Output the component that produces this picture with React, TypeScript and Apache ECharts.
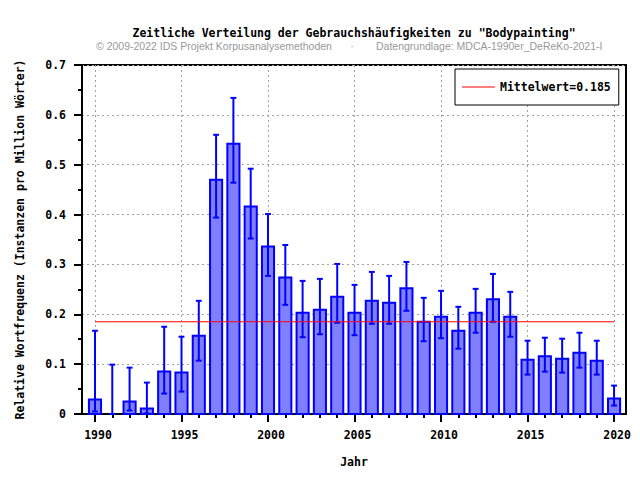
import React, { useEffect, useRef } from 'react';
import * as echarts from 'echarts';

const years = [
  1990, 1991, 1992, 1993, 1994, 1995, 1996, 1997, 1998, 1999,
  2000, 2001, 2002, 2003, 2004, 2005, 2006, 2007, 2008, 2009,
  2010, 2011, 2012, 2013, 2014, 2015, 2016, 2017, 2018, 2019, 2020,
];
const frequencies = [
  0.029, 0.0, 0.025, 0.011, 0.085, 0.083, 0.157, 0.47, 0.542, 0.416,
  0.336, 0.274, 0.203, 0.209, 0.235, 0.203, 0.227, 0.223, 0.252, 0.185,
  0.195, 0.167, 0.203, 0.23, 0.195, 0.109, 0.116, 0.111, 0.123, 0.107, 0.031,
];
const errorLow = [
  0.005, 0.0, 0.007, 0.001, 0.041, 0.045, 0.107, 0.394, 0.464, 0.352,
  0.277, 0.219, 0.154, 0.16, 0.183, 0.158, 0.181, 0.181, 0.207, 0.146,
  0.152, 0.131, 0.163, 0.185, 0.155, 0.079, 0.085, 0.083, 0.093, 0.079, 0.017,
];
const errorHigh = [
  0.167, 0.099, 0.093, 0.063, 0.175, 0.155, 0.227, 0.56, 0.634, 0.492,
  0.401, 0.339, 0.267, 0.271, 0.301, 0.259, 0.285, 0.277, 0.305, 0.233,
  0.247, 0.215, 0.251, 0.281, 0.245, 0.147, 0.153, 0.151, 0.163, 0.147, 0.057,
];
const meanValue = 0.185;
const meanSpan = [1990, 2020];
const majorYears = [1990, 1995, 2000, 2005, 2010, 2015, 2020];

const titleText = 'Zeitliche Verteilung der Gebrauchshäufigkeiten zu "Bodypainting"';
const copyrightText = '© 2009-2022 IDS Projekt Korpusanalysemethoden';
const separatorText = '·';
const sourceText = 'Datengrundlage: MDCA-1990er_DeReKo-2021-I';
const xAxisTitle = 'Jahr';
const yAxisTitle = 'Relative Wortfrequenz (Instanzen pro Million Wörter)';
const meanName = `Mittelwert=${meanValue}`;

const MONO = '"DejaVu Sans Mono", monospace';
const SANS = '"Liberation Sans", Arial, sans-serif';
const BAR_HALF = 0.35;
const CAP_HALF = 0.17;
const X_MIN = 1989.25;
const X_MAX = 2020.69;

export default function App() {
  const ref = useRef<HTMLDivElement>(null);

  useEffect(() => {
    if (!ref.current) return;
    const chart = echarts.init(ref.current, undefined, { renderer: 'svg' });

    const monoText = {
      color: '#000',
      fontFamily: MONO,
      fontWeight: 'bold' as const,
      fontSize: 11.5,
    };

    const option: any = {
      animation: false,
      backgroundColor: '#fff',
      graphic: [
        {
          type: 'text',
          x: 354,
          y: 33,
          style: {
            text: titleText,
            font: `bold 11.5px ${MONO}`,
            fill: '#000',
            textAlign: 'center',
            textVerticalAlign: 'middle',
          },
        },
        {
          type: 'text',
          x: 96,
          y: 46,
          style: {
            text: copyrightText,
            font: `10.5px ${SANS}`,
            fill: '#999',
            textAlign: 'left',
            textVerticalAlign: 'middle',
          },
        },
        {
          type: 'text',
          x: 352,
          y: 46,
          style: {
            text: separatorText,
            font: `10.5px ${SANS}`,
            fill: '#999',
            textAlign: 'center',
            textVerticalAlign: 'middle',
          },
        },
        {
          type: 'text',
          x: 376,
          y: 46,
          style: {
            text: sourceText,
            font: `10.5px ${SANS}`,
            fill: '#999',
            textAlign: 'left',
            textVerticalAlign: 'middle',
          },
        },
      ],
      legend: {
        show: true,
        left: 455,
        top: 69,
        padding: [12, 8, 12, 7],
        borderColor: '#000',
        borderWidth: 1,
        borderRadius: 0,
        backgroundColor: '#fff',
        itemWidth: 33,
        itemHeight: 1,
        textStyle: monoText,
        data: [{ name: meanName, icon: 'rect' }],
      },
      grid: {
        left: 82,
        top: 65,
        width: 544,
        height: 349,
        show: true,
        borderColor: '#000',
        borderWidth: 2,
        backgroundColor: 'transparent',
      },
      xAxis: [
        {
          type: 'value',
          min: X_MIN,
          max: X_MAX,
          position: 'bottom',
          name: xAxisTitle,
          nameLocation: 'middle',
          nameGap: 42,
          nameTextStyle: monoText,
          axisLine: { show: true, onZero: false, lineStyle: { color: '#000', width: 2 } },
          axisTick: {
            show: true,
            inside: false,
            length: 8,
            customValues: majorYears,
            lineStyle: { color: '#000', width: 2 },
          },
          axisLabel: {
            ...monoText,
            customValues: majorYears,
            margin: 15,
            padding: [0, 0, 0, 6],
            formatter: (v: number) => String(Math.round(v)),
          },
          splitLine: { show: true, lineStyle: { color: '#a0a0a0', type: [2, 3], width: 1 } },
        },
        {
          type: 'value',
          min: X_MIN,
          max: X_MAX,
          position: 'bottom',
          axisLine: { show: false },
          axisTick: {
            show: true,
            inside: false,
            length: 4,
            customValues: years,
            lineStyle: { color: '#000', width: 2 },
          },
          axisLabel: { show: false },
          splitLine: { show: false },
        },
      ],
      yAxis: {
        type: 'value',
        min: 0,
        max: 0.7,
        interval: 0.1,
        name: yAxisTitle,
        nameLocation: 'middle',
        nameGap: 56,
        nameRotate: 90,
        nameTextStyle: monoText,
        axisLine: { show: true, lineStyle: { color: '#000', width: 2 } },
        axisTick: { show: true, inside: false, length: 8, lineStyle: { color: '#000', width: 2 } },
        minorTick: { show: true, splitNumber: 2, length: 4, lineStyle: { color: '#000', width: 2 } },
        axisLabel: { ...monoText, margin: 16 },
        splitLine: { show: true, lineStyle: { color: '#a0a0a0', type: [2, 3], width: 1 } },
      },
      series: [
        {
          type: 'line',
          name: meanName,
          xAxisIndex: 0,
          data: meanSpan.map((x) => [x, meanValue]),
          symbol: 'none',
          silent: true,
          lineStyle: { color: '#ff0000', width: 1 },
          itemStyle: { color: '#ff0000' },
        },
        {
          type: 'custom',
          xAxisIndex: 0,
          silent: true,
          data: years.map((y, i) => [y, frequencies[i]]),
          encode: { x: 0, y: 1 },
          renderItem: (params: any, api: any) => {
            const x = api.value(0);
            const v = api.value(1);
            if (!v) return null;
            const p0 = api.coord([x - BAR_HALF, v]);
            const p1 = api.coord([x + BAR_HALF, 0]);
            return {
              type: 'rect',
              shape: { x: p0[0], y: p0[1], width: p1[0] - p0[0], height: p1[1] - p0[1] },
              style: { fill: '#8080ff', stroke: '#0000ff', lineWidth: 2 },
            };
          },
        },
        {
          type: 'custom',
          xAxisIndex: 0,
          silent: true,
          data: years.map((y, i) => [y, frequencies[i], errorLow[i], errorHigh[i]]),
          encode: { x: 0, y: [2, 3] },
          renderItem: (params: any, api: any) => {
            const x = api.value(0);
            const lo = api.value(2);
            const hi = api.value(3);
            const pLo = api.coord([x, lo]);
            const pHi = api.coord([x, hi]);
            const cl = api.coord([x - CAP_HALF, lo]);
            const cr = api.coord([x + CAP_HALF, lo]);
            const hl = api.coord([x - CAP_HALF, hi]);
            const hr = api.coord([x + CAP_HALF, hi]);
            const style = { stroke: '#0000ff', lineWidth: 2 };
            return {
              type: 'group',
              children: [
                { type: 'line', shape: { x1: pLo[0], y1: pLo[1], x2: pHi[0], y2: pHi[1] }, style },
                { type: 'line', shape: { x1: cl[0], y1: cl[1], x2: cr[0], y2: cr[1] }, style },
                { type: 'line', shape: { x1: hl[0], y1: hl[1], x2: hr[0], y2: hr[1] }, style },
              ],
            };
          },
        },
      ],
    };

    chart.setOption(option);
    return () => chart.dispose();
  }, []);

  return (
    <div
      ref={ref}
      style={{ position: 'fixed', left: 0, top: 0, width: 640, height: 480, background: '#fff' }}
    />
  );
}
